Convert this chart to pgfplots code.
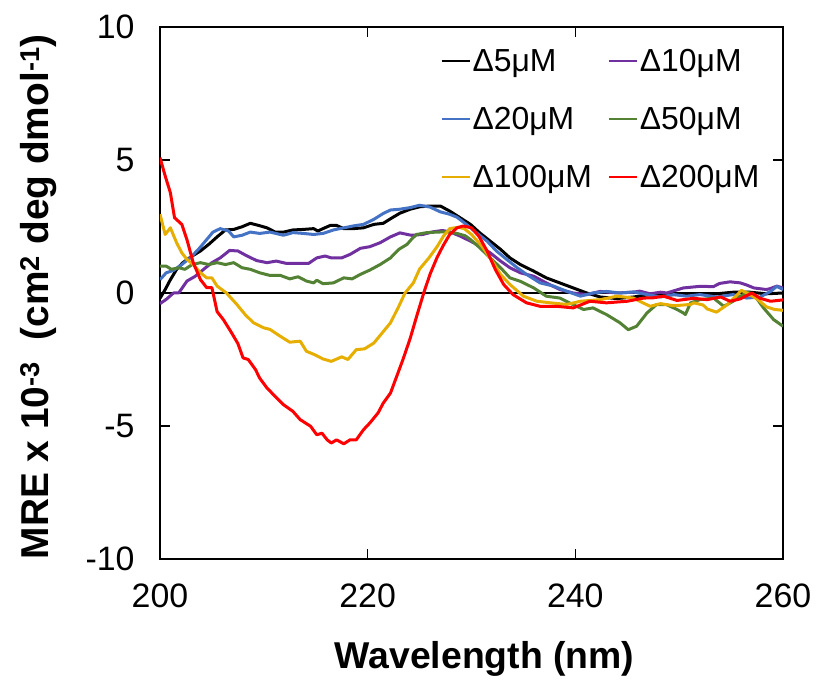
\documentclass[border=0pt]{standalone}
\usepackage{fontspec}
\setmainfont{Liberation Sans}
\usepackage{pgfplots}
\pgfplotsset{compat=1.18}
\definecolor{cpurple}{HTML}{7030A0}
\definecolor{cblue}{HTML}{4472C4}
\definecolor{cgreen}{HTML}{548235}
\definecolor{cgold}{HTML}{E6AE00}
\definecolor{cred}{HTML}{FF0000}
\begin{document}
\begin{tikzpicture}
\begin{axis}[
 scale only axis, width=623bp, height=532bp,
 xmin=200, xmax=260, ymin=-10, ymax=10,
 xtick={200,220,240,260}, ytick={-10,-5,0,5,10},
 tick align=inside, major tick length=10bp,
 tick style={black, line width=1.5bp},
 axis line style={black, line width=2bp},
 /pgf/number format/assume math mode=true,
 tick label style={font=\fontsize{34}{40}\selectfont},
 yticklabel style={xshift=-22bp},
 xticklabel style={yshift=-21bp},
 xlabel={Wavelength (nm)},
 ylabel={MRE x 10\textsuperscript{-3}\ \ (cm\textsuperscript{2} deg dmol\textsuperscript{-1})},
 xlabel style={font=\bfseries\fontsize{37.5}{40}\selectfont, at={(rel axis cs:0.521,-0.1544)}, anchor=north, inner sep=0pt},
 ylabel style={font=\bfseries\fontsize{39}{42}\selectfont, at={(rel axis cs:-0.166,0.493)}, anchor=south, inner sep=0pt},
 legend columns=2,
 legend cell align=left,
 legend style={draw=none, fill=none, at={(rel axis cs:0.45,0.962)}, anchor=north west,
   font=\fontsize{32}{36}\selectfont, row sep=30bp, inner sep=0pt,
   /tikz/every even column/.append style={column sep=14bp}},
 legend image code/.code={\draw[#1, line width=2bp] (0bp,0bp) -- (28bp,0bp);},
 every axis plot/.append style={line width=3bp, line join=round},
]
\coordinate (ll) at (rel axis cs:0,0);
\addplot[black, line width=1.2bp, forget plot] coordinates {(200,0) (260,0)};
% Delta 5
\addplot[black] table {
200 -0.2
200.5 0.13
201.0 0.5
201.6 0.89
202.2 1.14
203.1 1.39
203.9 1.58
204.7 1.83
205.5 2.11
206.3 2.37
207.1 2.39
207.9 2.49
208.7 2.62
209.5 2.54
210.3 2.45
211.1 2.29
211.9 2.29
212.8 2.37
213.8 2.39
214.8 2.42
215.2 2.33
215.7 2.42
216.4 2.54
217.0 2.54
217.7 2.42
218.6 2.42
219.6 2.45
220.6 2.58
221.5 2.62
222.2 2.79
223.1 3.0
224.1 3.15
225.0 3.24
226.0 3.27
227.0 3.27
227.9 3.08
228.9 2.83
229.9 2.58
230.8 2.26
231.8 1.95
232.8 1.64
233.7 1.32
234.7 1.07
236.0 0.82
237.2 0.57
238.5 0.38
239.8 0.19
241.1 0.0
242.4 -0.15
244.0 -0.21
245.6 -0.15
247.2 -0.06
248.8 -0.06
250.4 -0.06
252.0 -0.03
253.6 -0.03
255.2 0.03
256.8 0.03
258.4 -0.03
260.0 0.0
};
% Delta 10
\addplot[cpurple] table {
200 -0.4
200.6 -0.24
201.3 0.0
201.8 0.0
202.6 0.45
203.4 0.63
204.2 0.89
205.0 1.14
205.8 1.32
206.7 1.6
207.5 1.58
208.3 1.41
209.3 1.22
210.3 1.14
211.2 1.2
212.2 1.11
213.2 1.11
214.3 1.11
215.1 1.32
215.9 1.39
216.5 1.32
217.5 1.32
218.3 1.45
219.3 1.68
220.2 1.74
221.2 1.89
222.2 2.11
223.1 2.26
224.2 2.17
225.3 2.2
226.3 2.3
227.2 2.35
227.9 2.3
228.9 2.14
229.9 1.95
230.8 1.76
231.8 1.51
232.8 1.2
233.7 0.95
234.7 0.76
236.0 0.63
237.2 0.38
238.5 0.13
239.8 0.0
241.1 -0.06
242.4 0.06
244.0 0.0
245.6 0.03
246.2 0.07
247.2 -0.03
248.2 0.03
248.8 0.0
250.4 0.19
252.0 0.25
253.3 0.24
253.9 0.36
254.9 0.42
255.9 0.38
256.5 0.3
257.2 0.19
258.4 0.13
258.8 0.17
259.4 0.26
260.0 0.19
};
% Delta 20
\addplot[cblue] table {
200 0.5
200.6 0.76
201.3 0.85
202.1 1.07
202.9 1.32
203.7 1.64
204.5 2.01
205.1 2.29
205.8 2.42
206.6 2.33
207.1 2.11
207.9 2.17
208.7 2.29
209.6 2.24
210.6 2.29
211.9 2.17
212.8 2.27
213.8 2.24
214.8 2.2
215.7 2.24
216.7 2.37
217.7 2.45
218.6 2.52
219.6 2.58
220.6 2.77
221.5 2.99
222.2 3.12
223.1 3.15
224.1 3.21
225.0 3.3
226.0 3.23
227.0 3.05
227.9 2.96
228.6 2.85
229.5 2.58
230.5 2.26
231.5 1.95
232.4 1.58
233.4 1.26
234.4 0.95
235.3 0.7
236.6 0.38
237.9 0.26
239.2 0.06
240.5 -0.12
241.7 0.0
243.0 0.06
244.3 0.0
245.6 0.04
246.9 -0.06
248.2 -0.15
249.5 -0.06
250.7 -0.12
252.0 -0.06
253.6 -0.15
255.2 -0.06
256.5 -0.19
257.8 -0.15
258.8 0.06
259.4 0.25
260.0 0.13
};
% Delta 50
\addplot[cgreen] table {
200 1.01
200.6 1.01
201.1 0.89
201.8 0.95
202.4 0.89
203.1 1.07
203.9 1.14
204.7 1.07
205.5 1.14
206.3 1.07
207.1 1.14
207.9 0.95
208.7 0.89
209.6 0.76
210.6 0.66
211.6 0.66
212.5 0.53
213.3 0.61
214.1 0.45
214.8 0.38
215.1 0.48
215.7 0.35
216.7 0.38
217.7 0.57
218.5 0.53
219.3 0.7
220.2 0.86
221.2 1.07
222.2 1.32
223.0 1.64
223.8 1.83
224.2 2.01
224.7 2.2
225.7 2.27
226.7 2.29
227.6 2.3
228.6 2.24
229.4 2.15
229.9 2.01
230.8 1.7
231.8 1.32
232.8 0.95
233.7 0.57
234.7 0.44
236.0 0.19
237.2 -0.12
238.5 -0.19
239.8 -0.44
240.8 -0.62
241.7 -0.56
243.0 -0.81
244.3 -1.12
245.1 -1.38
245.9 -1.25
246.9 -0.75
247.8 -0.44
248.8 -0.44
249.8 -0.62
250.4 -0.75
250.6 -0.81
251.1 -0.37
252.0 -0.25
253.3 -0.19
254.3 -0.5
255.2 -0.31
255.9 -0.12
256.6 0.03
257.2 -0.06
258.1 -0.55
259.1 -1.0
260.0 -1.25
};
% Delta 100
\addplot[cgold] table {
200 2.96
200.5 2.2
201 2.45
201.6 1.89
202.1 1.51
202.6 1.26
203.2 1.07
203.9 0.76
204.5 0.57
205.0 0.57
205.5 0.26
206.4 0.0
207.4 -0.43
208.2 -0.81
209.0 -1.12
210.0 -1.31
210.6 -1.37
211.6 -1.63
212.5 -1.85
213.5 -1.81
214.1 -2.19
214.9 -2.32
215.7 -2.48
216.5 -2.57
217.5 -2.4
218.1 -2.5
218.9 -2.13
219.7 -2.1
220.6 -1.88
221.4 -1.5
222.2 -1.12
223.0 -0.5
223.6 0.0
224.4 0.38
225.0 0.9
225.9 1.32
226.7 1.75
227.3 2.14
227.9 2.42
228.7 2.47
229.3 2.42
230.0 2.2
231.0 1.76
232.0 1.2
232.8 0.7
233.7 0.32
235.0 -0.12
236.3 -0.31
237.6 -0.37
239.2 -0.43
240.5 -0.31
242.4 -0.25
244.0 -0.12
245.6 -0.19
246.2 -0.31
247.2 -0.5
248.2 -0.4
249.5 -0.48
251.1 -0.43
251.4 -0.37
252.3 -0.45
252.7 -0.6
253.6 -0.72
254.6 -0.45
255.5 -0.1
256.0 0.1
256.8 -0.06
257.6 -0.25
258.4 -0.52
259.2 -0.62
260.0 -0.65
};
% Delta 200
\addplot[cred] table {
200 5.09
200.5 4.4
201 3.77
201.4 2.83
202.1 2.58
202.6 2.0
203.2 1.14
203.9 0.5
204.5 0.2
205 0.2
205.5 -0.7
206.1 -1.0
206.9 -1.5
207.5 -1.9
208 -2.44
208.5 -2.5
209.2 -2.88
209.6 -3.2
210.3 -3.57
211.1 -3.89
211.9 -4.2
212.8 -4.45
213.5 -4.76
214.5 -5.01
215.1 -5.33
215.6 -5.27
216.1 -5.52
216.5 -5.64
217.0 -5.52
217.7 -5.67
218.3 -5.52
218.9 -5.52
219.6 -5.14
220.2 -4.89
221.0 -4.51
221.5 -4.14
222.2 -3.76
222.8 -3.13
223.4 -2.5
224.1 -1.7
224.7 -0.9
225.4 0.0
226.0 0.7
226.7 1.35
227.3 1.8
227.9 2.2
228.6 2.45
229.2 2.52
230.0 2.45
230.7 2.14
231.5 1.58
232.3 0.88
233.1 0.32
234.0 -0.06
235.3 -0.37
236.6 -0.5
238.2 -0.5
239.8 -0.56
241.4 -0.31
243.0 -0.37
245.0 -0.31
246.6 -0.19
247.5 -0.18
248.5 -0.12
249.8 -0.28
251.4 -0.2
252.7 -0.25
254.0 -0.15
254.9 -0.31
255.9 -0.22
257.0 0.0
257.8 -0.2
258.8 -0.31
260.0 -0.26
};
\legend{Δ5μM,Δ10μM,Δ20μM,Δ50μM,Δ100μM,Δ200μM}
\end{axis}
\pgfresetboundingbox
\path (ll) ++(-160bp,-124bp) rectangle ++(820bp,683bp);
\end{tikzpicture}
\end{document}
